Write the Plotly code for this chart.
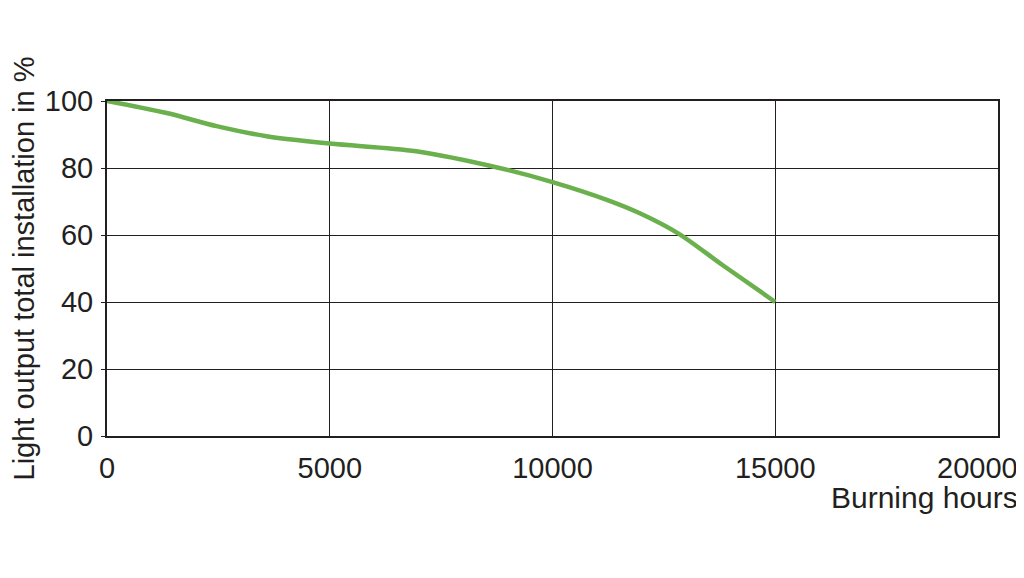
import plotly.graph_objects as go

hours = [0, 1340, 2460, 3580, 5000, 6940, 8810, 10000, 11220, 11960, 12820, 13830, 15000]
light_output = [100, 96.4, 92.5, 89.5, 87.3, 85.0, 80.0, 75.8, 70.5, 66.5, 60.5, 50.9, 40.0]
x_ticks = [0, 5000, 10000, 15000, 20000]
y_ticks = [0, 20, 40, 60, 80, 100]

# page has an 8px body margin: figure coords = page coords - 8
OFF = 8
W, H = 1024 - OFF, 578 - OFF
L, R, T = 107 - OFF, 1024 - 998, 101 - OFF
B = H - (436 - OFF)
pw, ph = W - L - R, H - T - B

def px_x(p):
    return (p - OFF - L) / pw

def px_y(p):
    return (H - B - (p - OFF)) / ph

txt = "#231f20"
font = "Liberation Sans, Arial, sans-serif"

fig = go.Figure()
fig.add_trace(go.Scatter(x=hours, y=light_output, mode="lines",
                         line=dict(color="#6ab04c", width=4.5, shape="spline", smoothing=0.9),
                         hoverinfo="skip", showlegend=False))

annotations = [
    dict(text="Burning hours", xref="paper", yref="paper",
         x=px_x(1020), y=px_y(497), xanchor="right", yanchor="middle",
         showarrow=False, font=dict(family=font, size=30, color=txt)),
    # last x tick label is drawn shifted left to stay inside the page
    dict(text=str(x_ticks[-1]), xref="x", yref="paper",
         x=x_ticks[-1], y=px_y(468), xanchor="center", yanchor="middle",
         xshift=-21, showarrow=False, font=dict(family=font, size=29, color=txt)),
]

fig.update_layout(
    width=W, height=H,
    margin=dict(l=L, r=R, t=T, b=B),
    paper_bgcolor="white", plot_bgcolor="white",
    font=dict(family=font, size=29, color=txt),
    xaxis=dict(range=[0, 20000], tickvals=x_ticks[:-1], ticktext=[str(v) for v in x_ticks[:-1]],
               showgrid=True, gridcolor="#231f20", gridwidth=1,
               showline=True, linecolor="#231f20", linewidth=2, mirror=True,
               ticks="", zeroline=False, ticklabelstandoff=5,
               ticklabeloverflow="allow",
               tickfont=dict(family=font, size=29, color=txt)),
    yaxis=dict(range=[0, 100], tickvals=y_ticks, ticktext=[str(v) for v in y_ticks],
               showgrid=True, gridcolor="#231f20", gridwidth=1,
               showline=True, linecolor="#231f20", linewidth=2, mirror=True,
               ticks="outside", ticklen=4, tickcolor="#231f20", zeroline=False,
               ticklabelstandoff=2,
               tickfont=dict(family=font, size=29, color=txt),
               title=dict(text="Light output total installation in %", standoff=6,
                          font=dict(family=font, size=29, color=txt))),
    annotations=annotations,
)

fig.write_html("out.html")
